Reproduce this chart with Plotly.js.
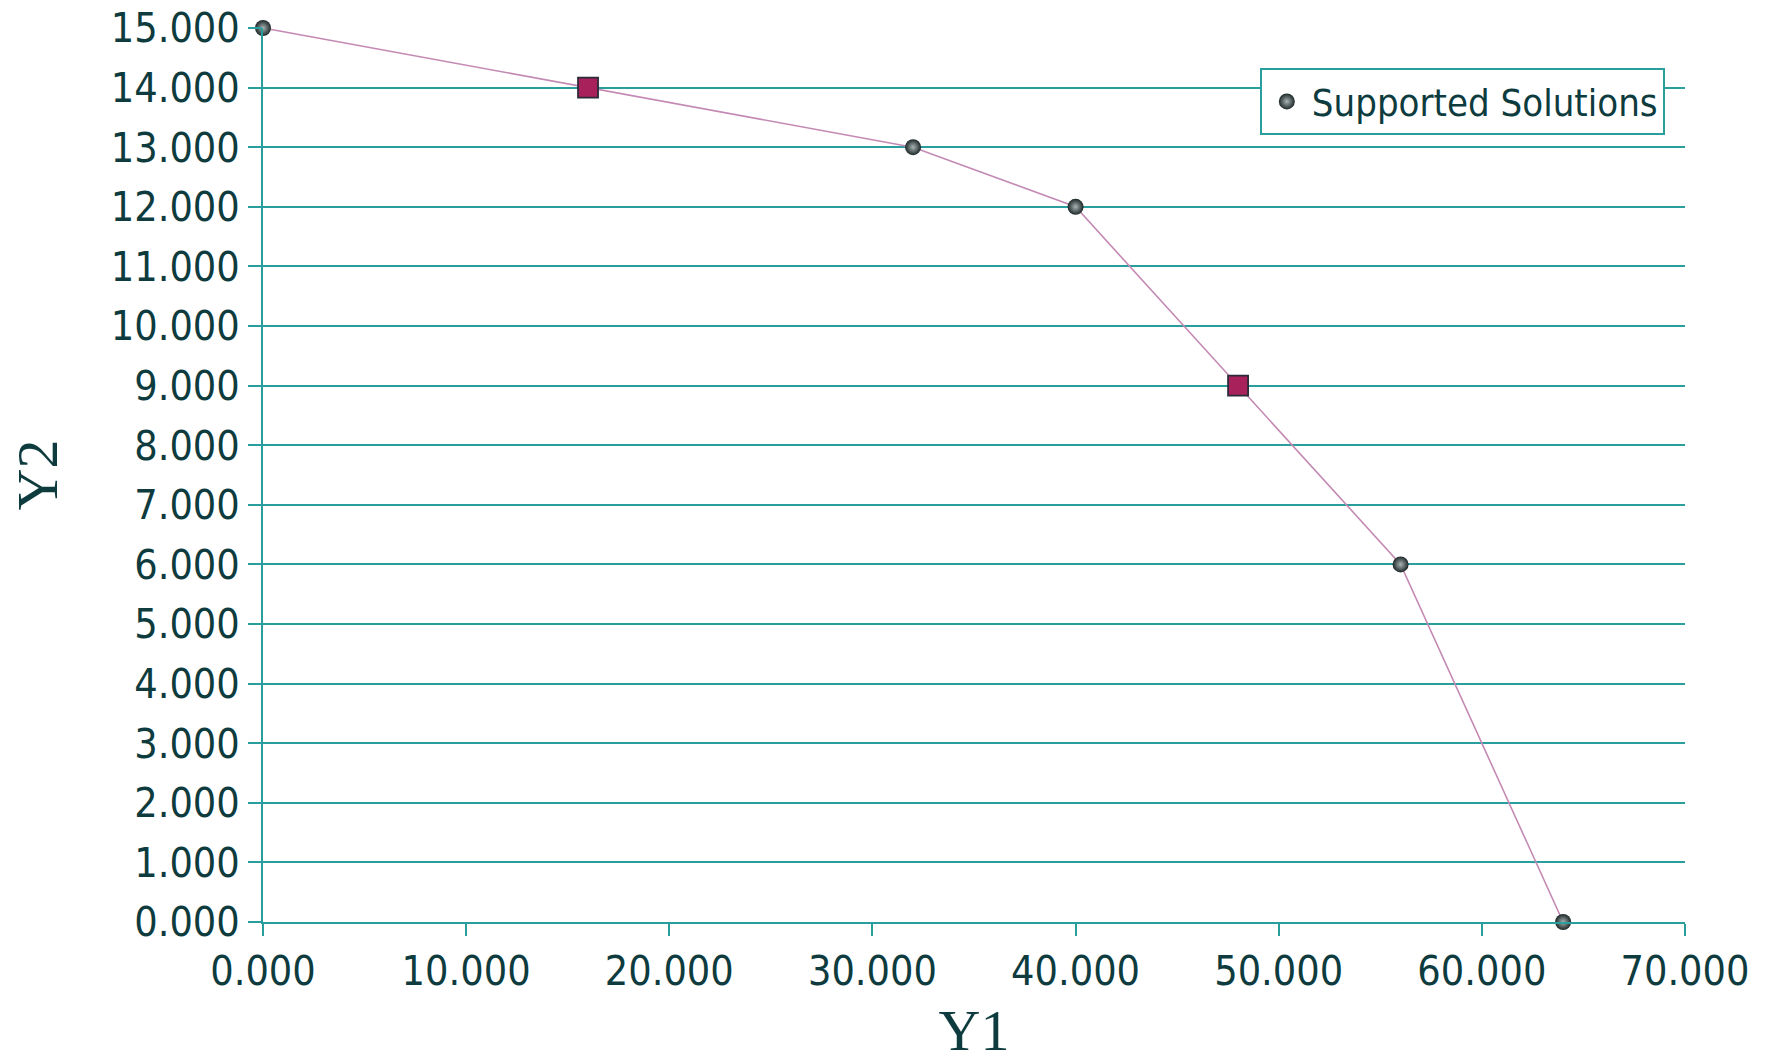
<!DOCTYPE html>
<html>
<head>
<meta charset="utf-8">
<script src="https://cdn.plot.ly/plotly-3.0.1.min.js"></script>
<style>
html,body{margin:0;padding:0;background:#fff;}
#chart{width:1775px;height:1063px;}
</style>
</head>
<body>
<div id="chart"></div>
<script>
// Data
var frontY1 = [0, 16, 32, 40, 48, 56, 64];
var frontY2 = [15, 14, 13, 12, 9, 6, 0];
var supportedY1 = [0, 32, 40, 56, 64];
var supportedY2 = [15, 13, 12, 6, 0];
var otherY1 = [16, 48];
var otherY2 = [14, 9];
var xTicks = [0, 10, 20, 30, 40, 50, 60, 70];
var yTicks = [0, 1, 2, 3, 4, 5, 6, 7, 8, 9, 10, 11, 12, 13, 14, 15];

var teal = '#2a9e9c';
var textCol = '#0e3b3e';
var sansFam = 'DejaVu Sans Condensed, DejaVu Sans, Verdana, sans-serif';
var tickFont = {family: sansFam, size: 41, color: textCol};

var traces = [
  {
    x: frontY1, y: frontY2, mode: 'lines', type: 'scatter',
    line: {color: '#c48ab4', width: 1.6},
    showlegend: false, hoverinfo: 'skip', cliponaxis: false
  },
  {
    x: supportedY1, y: supportedY2, mode: 'markers', type: 'scatter',
    name: 'Supported Solutions',
    marker: {symbol: 'circle', size: 16, color: '#1c2626',
      gradient: {type: 'radial', color: '#a9b4b4'},
      line: {width: 0}},
    cliponaxis: false
  },
  {
    x: otherY1, y: otherY2, mode: 'markers', type: 'scatter',
    name: 'Non-supported',
    marker: {symbol: 'square', size: 20, color: '#a8215a',
      line: {color: '#2b2b3a', width: 1.8}},
    showlegend: false, cliponaxis: false
  }
];

var layout = {
  width: 1775, height: 1063,
  paper_bgcolor: '#ffffff', plot_bgcolor: '#ffffff',
  margin: {l: 263, r: 90, t: 28, b: 141},
  showlegend: true,
  legend: {
    x: 0.701, y: 0.955, xanchor: 'left', yanchor: 'top',
    bgcolor: '#ffffff', bordercolor: teal, borderwidth: 2,
    font: {family: sansFam, size: 38, color: textCol},
    itemwidth: 40
  },
  xaxis: {
    range: [0, 70], tickvals: xTicks, tickformat: '.3f',
    showgrid: false, zeroline: false,
    showline: true, linecolor: teal, linewidth: 2,
    ticks: 'outside', ticklen: 12, tickwidth: 2, tickcolor: teal,
    tickfont: tickFont,
    title: {text: 'Y1', font: {family: 'Liberation Serif, Times New Roman, serif', size: 58, color: textCol}, standoff: 33}
  },
  yaxis: {
    range: [0, 15], tickvals: yTicks, tickformat: '.3f',
    showgrid: true, gridcolor: teal, gridwidth: 2,
    zeroline: false,
    showline: true, linecolor: teal, linewidth: 2,
    ticks: 'outside', ticklen: 13, tickwidth: 2, tickcolor: teal,
    tickfont: tickFont,
    title: {text: 'Y2', font: {family: 'Liberation Serif, Times New Roman, serif', size: 58, color: textCol}, standoff: 34}
  }
};

Plotly.newPlot('chart', traces, layout, {displayModeBar: false, staticPlot: true});
</script>
</body>
</html>
